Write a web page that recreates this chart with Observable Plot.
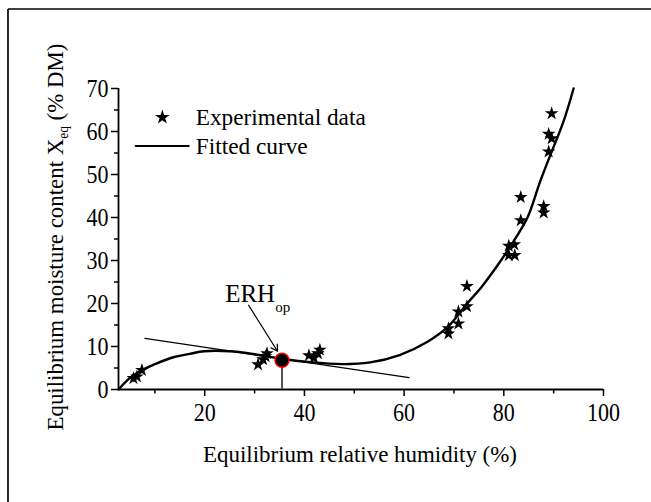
<!DOCTYPE html>
<html><head><meta charset="utf-8">
<script src="https://cdn.jsdelivr.net/npm/d3@7"></script>
<script src="https://cdn.jsdelivr.net/npm/@observablehq/plot@0.6"></script>
<style>
body{margin:0;background:#fff;}
#chart{width:651px;height:502px;}
#chart svg, #chart svg text{font-family:"Liberation Serif", serif !important;}
</style></head><body><div id="chart"></div>
<script>
// Experimental data (ERH %, Xeq % DM)
const expX = [5.7, 6.4, 7.4, 30.7, 31.7, 32.2, 32.5, 40.9, 41.9, 42.7, 43.1, 68.9, 68.9, 70.9, 70.9, 72.6, 72.6, 81.0, 82.1, 81.0, 82.2, 83.4, 83.4, 88.0, 88.0, 89.0, 89.0, 89.6, 89.6];
const expY = [2.6, 3.0, 4.5, 5.8, 7.0, 7.7, 8.4, 7.9, 7.4, 8.4, 9.2, 14.2, 13.0, 18.1, 15.3, 24.0, 19.3, 33.4, 33.7, 31.2, 31.2, 44.7, 39.3, 42.6, 41.1, 55.3, 59.4, 58.4, 64.2];
// Fitted curve
const fitX = [2.7, 5, 7.5, 10, 13.7, 17, 19.9, 25, 30, 35.7, 40.8, 47.5, 53.2, 59.1, 64.7, 68.8, 72.8, 75.5, 79, 82.3, 84.8, 87.3, 89.5, 92, 94];
const fitY = [0, 2.7, 4.6, 5.9, 7.5, 8.3, 8.9, 8.9, 8.2, 7.1, 6.4, 5.9, 6.3, 8.0, 11.1, 14.6, 20.2, 23.8, 29.3, 35.1, 40.1, 48.4, 55, 62.4, 70];
// Tangent line
const tanX = [8, 61];
const tanY = [11.9, 2.75];
// ERH_op point
const erhX = 35.5, erhY = 6.8;
// Axis ticks
const xTicks = [20, 40, 60, 80, 100];
const xMinor = [10, 30, 50, 70, 90];
const yTicks = [0, 10, 20, 30, 40, 50, 60, 70];
const yMinor = [5, 15, 25, 35, 45, 55, 65];
const legendLabels = ["Experimental data", "Fitted curve"];

const stars = expX.map((x, i) => ({x, y: expY[i]}));
const curve = fitX.map((x, i) => ({x, y: fitY[i]}));
const tangent = tanX.map((x, i) => ({x, y: tanY[i]}));
const font = "Liberation Serif";

const plot = Plot.plot({
  width: 651, height: 502,
  marginLeft: 118, marginRight: 48, marginTop: 88, marginBottom: 113,
  x: {domain: [2.7, 100]},
  y: {domain: [0, 70]},
  style: {fontFamily: font, fontSize: "25px", background: "white", color: "black", overflow: "visible"},
  marks: [
    Plot.axisY({ticks: yTicks, tickSize: 7, tickPadding: 3, label: null, strokeWidth: 1.5, fontSize: 25}),
    Plot.axisY({ticks: yMinor, tickSize: 4, tickFormat: () => "", label: null, strokeWidth: 1.5}),
    Plot.axisX({ticks: xTicks, tickSize: 7, tickPadding: 7, label: null, strokeWidth: 1.5, fontSize: 25}),
    Plot.axisX({ticks: xMinor, tickSize: 4.5, tickFormat: () => "", label: null, strokeWidth: 1.5}),
    Plot.ruleY([0], {strokeWidth: 1.8}),
    Plot.ruleX([2.7], {strokeWidth: 1.8}),
    Plot.line(tangent, {x: "x", y: "y", strokeWidth: 1.2}),
    Plot.line(curve, {x: "x", y: "y", strokeWidth: 2.4, curve: "catmull-rom"}),
    Plot.dot(stars, {x: "x", y: "y", symbol: "star", r: 4.3, fill: "black"}),
    Plot.ruleX([erhX], {y1: 0, y2: erhY, stroke: "#555", strokeWidth: 2}),
    Plot.dot([{x: erhX, y: erhY}], {x: "x", y: "y", r: 7, fill: "black", stroke: "red", strokeWidth: 1.5}),
    Plot.arrow([{x1: 28.8, y1: 19.6, x2: 34.6, y2: 8.9}], {x1: "x1", y1: "y1", x2: "x2", y2: "y2", strokeWidth: 1.2, headLength: 9}),
    // legend
    Plot.dot([{x: 11.5, y: 63.3}], {x: "x", y: "y", symbol: "star", r: 4.6, fill: "black"}),
    Plot.line([{x: 6.15, y: 56.6}, {x: 16.8, y: 56.6}], {x: "x", y: "y", strokeWidth: 2}),
    Plot.text([legendLabels[0]], {x: 18.2, y: 63.3, textAnchor: "start", fontSize: 24}),
    Plot.text([legendLabels[1]], {x: 18.2, y: 56.6, textAnchor: "start", fontSize: 24})
  ]
});
document.getElementById("chart").appendChild(plot);

const svg = d3.select(plot);
const sx = plot.scale("x"), sy = plot.scale("y");

// slightly condense tick labels like the reference typeface
svg.selectAll("g[aria-label$='tick label'] text").each(function() {
  if (!this.textContent) return;
  const w = this.getComputedTextLength();
  this.setAttribute("textLength", (w * 0.88).toFixed(1));
  this.setAttribute("lengthAdjust", "spacingAndGlyphs");
});
svg.selectAll("g[aria-label='text'] text").each(function() {
  const w = this.getComputedTextLength();
  this.setAttribute("textLength", (w * 0.97).toFixed(1));
  this.setAttribute("lengthAdjust", "spacingAndGlyphs");
});

// frame border (left and top)
svg.append("line").attr("x1", 8).attr("y1", 9).attr("x2", 8).attr("y2", 502).attr("stroke", "black").attr("stroke-width", 1.7);
svg.append("line").attr("x1", 8).attr("y1", 9).attr("x2", 651).attr("y2", 9).attr("stroke", "black").attr("stroke-width", 1.7);

// ERH_op annotation
const erhT = svg.append("text").attr("x", sx.apply(24.2)).attr("y", sy.apply(20.3)).attr("text-anchor", "start")
  .style("font-family", font).style("font-size", "25px").attr("fill", "black");
erhT.append("tspan").text("ERH");
erhT.append("tspan").attr("dy", 10).attr("dx", 0).style("font-size", "15px").text("op");

// x label
svg.append("text").attr("x", 360).attr("y", 462).attr("text-anchor", "middle")
  .attr("textLength", 314).attr("lengthAdjust", "spacingAndGlyphs")
  .style("font-family", font).style("font-size", "24px").attr("fill", "black")
  .text("Equilibrium relative humidity (%)");
// y label
const yl = svg.append("text").attr("transform", "translate(63,237) rotate(-90)").attr("text-anchor", "middle")
  .attr("textLength", 387).attr("lengthAdjust", "spacingAndGlyphs")
  .style("font-family", font).style("font-size", "24px").attr("fill", "black");
yl.append("tspan").text("Equilibrium moisture content X");
yl.append("tspan").attr("dy", 5).style("font-size", "14px").text("eq");
yl.append("tspan").attr("dy", -5).text(" (% DM)");
</script></body></html>
